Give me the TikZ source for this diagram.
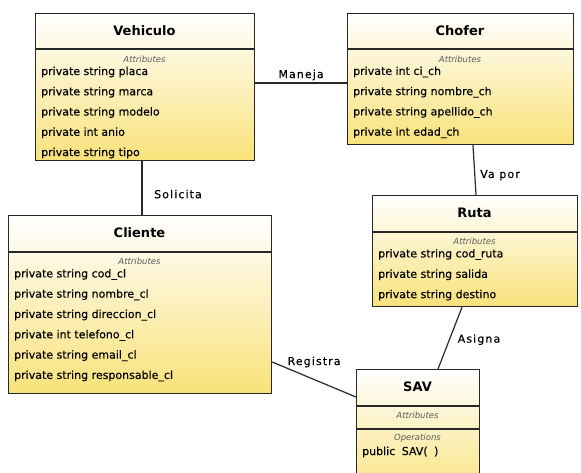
\documentclass[tikz,border=0pt]{standalone}
\usepackage{fontspec}
\setmainfont{DejaVu Sans}
\newfontfamily\attrfont[FakeBold=0.3]{DejaVu Sans}
\newfontfamily\lblfont[LetterSpace=10,FakeBold=0.3]{DejaVu Sans}
\usetikzlibrary{calc}
\definecolor{linec}{RGB}{40,40,40}
\definecolor{classyellow}{RGB}{249,226,122}
\definecolor{attrgray}{RGB}{90,90,90}
\tikzset{
  cls/.style={rectangle, draw=linec, line width=1.2pt, top color=white, bottom color=classyellow, inner sep=0pt, anchor=north west},
  ctitle/.style={font=\fontsize{13}{15}\selectfont\bfseries, inner sep=0pt},
  attr/.style={font=\fontsize{11}{13}\selectfont\attrfont, anchor=west, inner sep=0pt},
  sect/.style={font=\fontsize{8.5}{10}\selectfont\itshape, text=attrgray, inner sep=0pt},
  sepline/.style={draw=linec, line width=1.2pt},
  link/.style={draw=linec, line width=1.2pt},
  lbl/.style={font=\fontsize{11}{13}\selectfont\lblfont, inner sep=0pt},
}
\begin{document}
\begin{tikzpicture}[x=1pt, y=-1pt]
\useasboundingbox (0,0) rectangle (581,472);
\clip (0,0) rectangle (581,472);

% ---- Vehiculo ----
\node[cls, minimum width=219pt, minimum height=147pt] (veh) at (35,13) {};
\draw[sepline] ([yshift=-36pt]veh.north west) -- ([yshift=-36pt]veh.north east);
\node[ctitle] (veh-t) at (144.5,31) {Vehiculo};
\node[sect] (veh-s) at (144.5,59) {Attributes};
\foreach \t [count=\i from 0] in {private string placa, private string marca, private string modelo, private int anio, private string tipo}
  \node[attr] (veh-a\i) at (41, 72+20.25*\i) {\t};

% ---- Chofer ----
\node[cls, minimum width=226pt, minimum height=131pt] (cho) at (347,13) {};
\draw[sepline] ([yshift=-36pt]cho.north west) -- ([yshift=-36pt]cho.north east);
\node[ctitle] (cho-t) at (460,31) {Chofer};
\node[sect] (cho-s) at (460,59) {Attributes};
\foreach \t [count=\i from 0] in {private int ci\_ch, private string nombre\_ch, private string apellido\_ch, private int edad\_ch}
  \node[attr] (cho-a\i) at (353, 72+20.25*\i) {\t};

% ---- Cliente ----
\node[cls, minimum width=263pt, minimum height=178pt] (cli) at (8,215) {};
\draw[sepline] ([yshift=-37pt]cli.north west) -- ([yshift=-37pt]cli.north east);
\node[ctitle] (cli-t) at (139.5,233) {Cliente};
\node[sect] (cli-s) at (139.5,261) {Attributes};
\foreach \t [count=\i from 0] in {private string cod\_cl, private string nombre\_cl, private string direccion\_cl, private int telefono\_cl, private string email\_cl, private string responsable\_cl}
  \node[attr] (cli-a\i) at (14, 274.5+20.3*\i) {\t};

% ---- Ruta ----
\node[cls, minimum width=205pt, minimum height=111pt] (rut) at (372,195) {};
\draw[sepline] ([yshift=-37pt]rut.north west) -- ([yshift=-37pt]rut.north east);
\node[ctitle] (rut-t) at (474.5,213) {Ruta};
\node[sect] (rut-s) at (474.5,241) {Attributes};
\foreach \t [count=\i from 0] in {private string cod\_ruta, private string salida, private string destino}
  \node[attr] (rut-a\i) at (378, 254.5+20.3*\i) {\t};

% ---- SAV ----
\node[cls, minimum width=123pt, minimum height=130pt] (sav) at (356,369) {};
\draw[sepline] ([yshift=-37pt]sav.north west) -- ([yshift=-37pt]sav.north east);
\draw[sepline] ([yshift=-60pt]sav.north west) -- ([yshift=-60pt]sav.north east);
\node[ctitle] (sav-t) at (417.5,387) {SAV};
\node[sect] (sav-s) at (417.5,415) {Attributes};
\node[sect] (sav-o) at (417.5,438) {Operations};
\node[attr] (sav-op) at (362,452) {public\hspace{3pt} SAV(\hspace{3pt} )};

% ---- Associations ----
\draw[link] ([yshift=-70pt]veh.north east) -- ([yshift=-70pt]cho.north west)
  node[lbl, midway, yshift=8pt] (l-maneja) {Maneja};

\coordinate (solA) at ([xshift=107pt]veh.south west);
\draw[link] (solA) -- (solA |- cli.north)
  node[lbl, midway, xshift=36pt, yshift=-6pt] (l-solicita) {Solicita};

\draw[link] ([xshift=126pt]cho.south west) -- ([xshift=104pt]rut.north west)
  node[lbl, midway, xshift=25.5pt, yshift=-5pt] (l-vapor) {Va por};

\draw[link] ([xshift=90pt]rut.south west) -- ([xshift=82pt]sav.north west)
  node[lbl, midway, xshift=29pt, yshift=-1.5pt] (l-asigna) {Asigna};

\draw[link] ([yshift=-147pt]cli.north east) -- ([yshift=-28pt]sav.north west)
  node[lbl, midway, yshift=17.5pt] (l-registra) {Registra};
\end{tikzpicture}
\end{document}
